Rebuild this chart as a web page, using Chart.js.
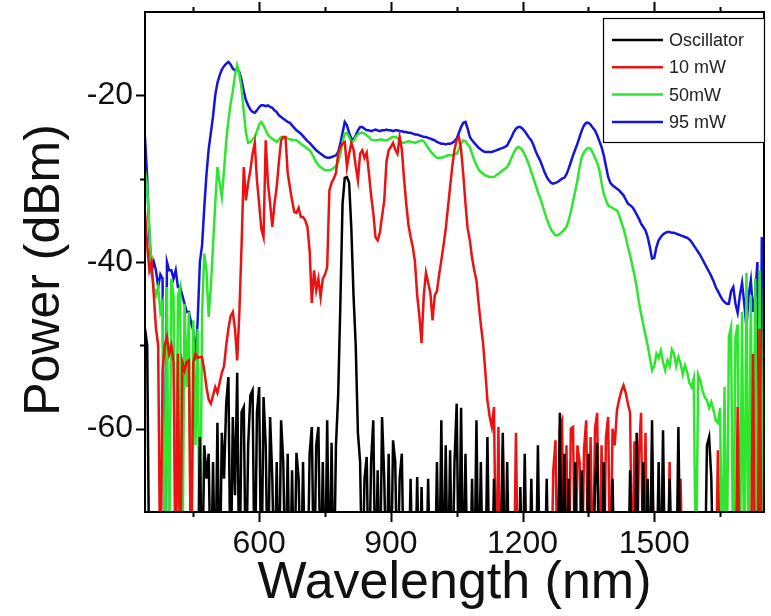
<!DOCTYPE html>
<html>
<head>
<meta charset="utf-8">
<title>Supercontinuum spectra</title>
<script src="https://cdn.jsdelivr.net/npm/chart.js@4"></script>
<style>
  body { margin: 0; background: #fff; }
  canvas { display: block; }
</style>
</head>
<body>
<canvas id="spectrum" width="771" height="616"></canvas>
<script>
// OSA sampling grid, 5 nm steps from 340 to 1750 nm
const wavelength = [];
for (let nm = 340; nm <= 1750; nm += 5) wavelength.push(nm);

const seriesLabels = ['Oscillator', '10 mW', '50mW', '95 mW'];
const seriesColors = ['#000000', '#ec1212', '#2ee62e', '#1414dc'];

// power in dBm, -80 = below the noise floor (clipped at -70)
const oscillator = [
  -48, -50, -80, -80, -80, -80, -80, -80, -80, -80,
  -80, -80, -80, -80, -80, -80, -80, -80, -80, -80,
  -80, -80, -80, -80, -80, -61, -80, -62, -66, -63,
  -80, -64, -80, -59.3, -80, -60.5, -66, -57, -53.8, -80,
  -58.6, -68, -53.3, -80, -58, -57.4, -80, -62, -56, -55.4,
  -80, -58, -55, -80, -56.2, -62, -80, -58.6, -66, -80,
  -64, -80, -59, -64, -80, -63, -80, -65, -80, -62.9,
  -66, -80, -64, -80, -80, -63, -59.8, -80, -62, -59.8,
  -80, -64, -80, -59, -80, -61.7, -80, -62, -56, -45,
  -33, -29.9, -29.8, -30.5, -36, -44, -50, -60.5, -64, -80,
  -66, -63.4, -80, -64, -59, -80, -65, -80, -58.6, -66,
  -80, -63, -80, -61.4, -64, -80, -66, -63, -80, -80,
  -80, -66, -80, -80, -65.8, -80, -67, -80, -80, -66,
  -80, -80, -80, -64, -80, -59, -80, -62, -80, -62.6,
  -80, -64, -57, -80, -57.5, -80, -63, -80, -80, -66,
  -80, -59, -80, -64, -80, -80, -61, -80, -80, -66,
  -80, -80, -80, -60.5, -80, -64, -80, -80, -80, -80,
  -80, -67, -80, -63, -80, -80, -66, -80, -80, -62,
  -80, -80, -80, -66, -80, -80, -80, -80, -80, -58.1,
  -80, -63, -80, -66, -80, -80, -64, -80, -80, -65,
  -80, -80, -63, -80, -80, -67, -61.7, -80, -80, -64,
  -80, -80, -80, -66, -80, -80, -80, -80, -80, -80,
  -80, -65, -80, -80, -60.5, -80, -80, -64, -80, -66,
  -80, -59, -80, -80, -64, -80, -60.2, -80, -80, -66,
  -80, -80, -80, -59.8, -80, -80, -80, -80, -80, -80,
  -80, -80, -80, -80, -80, -80, -62, -61, -66, -80,
  -80, -80, -80, -80, -80, -80, -80, -80, -80, -80,
  -80, -80, -80, -80, -80, -80, -80, -80, -80, -80,
  -80, -80, -80
];

const power10 = [
  -34, -38, -41, -40, -44, -48, -50, -80, -53, -50,
  -49, -51, -50, -52, -80, -51, -80, -52, -53, -52,
  -51.8, -80, -52, -51, -51.5, -51.4, -51.4, -53, -55, -56.5,
  -57, -56, -55, -55.7, -54.5, -53.3, -52.5, -50, -48, -46.5,
  -46, -48, -51.8, -46, -38, -28.6, -32.6, -30.5, -29, -27,
  -25.7, -30.2, -33, -36, -37, -25.4, -30.5, -33, -35.8, -33,
  -31, -28, -25.4, -25, -25, -29.3, -31, -32.6, -34, -34.1,
  -33.5, -34.6, -34.6, -35, -35.8, -38.6, -44.9, -41, -43.4, -42,
  -44.2, -42, -41.5, -40.6, -31.4, -30.5, -30, -29.3, -27, -26.2,
  -25.8, -25.6, -28.6, -27, -25.7, -26.5, -28.5, -30.2, -27, -26.6,
  -27.5, -26.9, -29.3, -32, -34.1, -37, -37.4, -36.5, -34.5, -32.6,
  -28, -26.6, -26.2, -25.7, -26.5, -27, -25, -26.5, -30, -33,
  -35.5, -37, -38.2, -40, -44, -46.5, -49.7, -44, -41.3, -42.5,
  -43.7, -47, -44, -43.5, -41.5, -39.8, -38, -36, -33.5, -31,
  -28.5, -26.5, -25.4, -25, -26.5, -29.5, -33, -36, -37.4, -39.5,
  -41, -42.2, -45, -47.5, -49.7, -53, -56.6, -58.5, -59.8, -57.4,
  -80, -59.8, -80, -62, -80, -80, -80, -80, -80, -60.5,
  -80, -80, -80, -80, -80, -80, -80, -80, -80, -80,
  -80, -80, -80, -80, -80, -80, -65, -61.4, -80, -59.8,
  -59, -80, -62, -80, -60, -59.8, -80, -62, -64, -80,
  -62.5, -59, -80, -61, -80, -60, -58.1, -80, -62, -80,
  -61, -58.6, -80, -60, -62, -57.8, -56.5, -55.5, -54.8, -55.7,
  -57, -58.1, -80, -61.5, -80, -63, -58.1, -80, -60.5, -80,
  -80, -62.6, -80, -80, -80, -80, -80, -80, -80, -64,
  -80, -80, -80, -80, -66, -80, -80, -80, -80, -80,
  -80, -80, -80, -80, -80, -80, -80, -80, -80, -80,
  -80, -62.6, -80, -80, -80, -80, -80, -80, -80, -80,
  -57.4, -80, -80, -80, -80, -80, -80, -51, -80, -80,
  -48, -80, -80
];

const power50 = [
  -29, -31, -36, -41, -43, -44, -43, -46, -45, -80,
  -43, -80, -42, -44, -80, -44, -43, -80, -45, -55,
  -46, -80, -47, -62, -48, -80, -46, -39, -41, -46.6,
  -43, -38, -33, -28.6, -30.5, -32.2, -29, -25.5, -23, -21,
  -19.5, -17.6, -16.4, -17.5, -19.2, -22, -24.5, -25.7, -25.6, -25.3,
  -25, -24.3, -23.5, -23.2, -23.6, -24.2, -24.7, -25, -25.2, -25.4,
  -25.6, -25.3, -25, -25, -25.1, -25.2, -25.3, -25.3, -25.4, -25.4,
  -25.6, -25.8, -26, -26.2, -26.4, -26.6, -27, -27.5, -28, -28.4,
  -28.6, -28.8, -29, -29, -29, -28.9, -28.7, -28.5, -28, -27,
  -25.6, -24.6, -24.5, -25, -25.6, -25.5, -25, -24.7, -24.5, -24.5,
  -24.6, -24.8, -25, -25.3, -25.4, -25.4, -25.4, -25.3, -25.3, -25.4,
  -25.4, -25.3, -25.1, -25, -25, -25.1, -25.4, -25.7, -25.7, -25.6,
  -25.5, -25.6, -25.6, -25.7, -25.6, -25.5, -25.4, -25.5, -25.9, -26.3,
  -26.7, -27, -27.3, -27.5, -27.5, -27.5, -27.4, -27.3, -27.2, -27.2,
  -27.2, -27.1, -27, -26.5, -25.8, -25.4, -25.5, -25.9, -26.2, -27,
  -27.8, -28.4, -28.9, -29.2, -29.4, -29.6, -29.7, -29.8, -29.8, -29.8,
  -29.6, -29.4, -29.2, -29, -28.8, -28.6, -28.1, -27.5, -26.9, -26.4,
  -26.2, -26.3, -26.6, -27.1, -27.7, -28.4, -29.2, -30, -30.8, -31.6,
  -32.3, -33.1, -34, -34.8, -35.5, -36.1, -36.5, -36.8, -36.8, -36.6,
  -36.4, -36.1, -35.8, -35, -34, -32.7, -31.5, -30.2, -28.6, -27.4,
  -26.8, -26.5, -26.3, -26.4, -26.9, -27.5, -28.1, -29, -30.5, -31.8,
  -32.6, -33.2, -33.4, -33.5, -33.7, -33.8, -34.4, -35.2, -36, -37,
  -38.2, -39.2, -40.4, -41.6, -43, -44.8, -46.2, -47.5, -48.8, -50,
  -51.5, -53, -52.5, -51, -51.5, -50.6, -52, -53, -51.8, -52.5,
  -50.5, -51, -52.5, -51.4, -52.2, -53.5, -52.4, -53.2, -54.5, -55,
  -54, -80, -53.5, -54.2, -55.5, -56.2, -56.6, -57.5, -56.8, -57.8,
  -59, -59.3, -57.5, -80, -55, -80, -49, -47.8, -80, -49,
  -47.5, -80, -46, -80, -41.3, -80, -44, -80, -42, -80,
  -41, -80, -43
];

const power95 = [
  -25, -30, -37, -41, -40, -41, -43, -41.5, -42, -80,
  -40, -41, -41, -42, -41, -43, -43, -44, -45, -46,
  -46, -47.3, -48.2, -51.8, -47, -40, -38, -33.5, -29.5, -26.5,
  -24.5, -22.5, -20, -18.5, -17.6, -16.9, -16.5, -16.2, -16, -16.3,
  -16.8, -17, -16.8, -17.2, -18.2, -19.5, -20.6, -21.2, -21.7, -22,
  -22.1, -21.8, -21.4, -21.2, -21.2, -21.3, -21.2, -21.4, -21.5, -21.8,
  -22, -22.4, -22.6, -22.8, -23, -23.2, -23.3, -23.6, -23.9, -24.2,
  -24.4, -24.6, -24.9, -25.2, -25.5, -25.7, -26, -26.3, -26.6, -26.8,
  -27, -27.2, -27.4, -27.5, -27.5, -27.4, -27.3, -27.2, -26.8, -25.8,
  -24.5, -23.2, -23.6, -24.5, -25.2, -25.3, -24.8, -24.2, -23.8, -23.8,
  -24, -24.2, -24.2, -24.3, -24.2, -24.1, -24.2, -24.3, -24.2, -24.2,
  -24.1, -24.2, -24.2, -24.3, -24.2, -24.2, -24.3, -24.3, -24.4, -24.4,
  -24.5, -24.5, -24.6, -24.7, -24.7, -24.8, -24.9, -25, -25, -25.1,
  -25.2, -25.3, -25.4, -25.6, -25.7, -25.8, -25.8, -25.9, -25.8, -25.8,
  -25.7, -25.5, -25.2, -24.5, -23.8, -23.3, -23.2, -24, -25, -25.4,
  -25.7, -26, -26.3, -26.5, -26.7, -26.8, -26.8, -26.8, -26.8, -26.7,
  -26.6, -26.5, -26.4, -26.3, -26.2, -26, -25.5, -25, -24.4, -24,
  -23.8, -23.8, -24, -24.3, -24.7, -25.1, -25.4, -26, -26.7, -27.3,
  -27.8, -28.5, -29.2, -29.8, -30.2, -30.5, -30.6, -30.5, -30.4, -30.2,
  -30, -29.9, -29.5, -28.8, -28, -27.2, -26.5, -25.8, -25, -24.2,
  -23.6, -23.3, -23.3, -23.5, -23.9, -24.2, -24.8, -25.5, -26.2, -27.2,
  -28.5, -29.8, -30.5, -30.8, -31, -31.2, -31.4, -31.7, -32, -32.5,
  -33, -33.2, -33.4, -33.8, -34.3, -34.8, -35.4, -35.8, -36.2, -37,
  -38.2, -39.6, -39.5, -38.2, -37.4, -37, -36.7, -36.5, -36.4, -36.4,
  -36.5, -36.5, -36.6, -36.7, -36.8, -36.9, -37, -37.1, -37.3, -37.6,
  -38, -38.4, -38.8, -39.2, -39.7, -40.2, -40.7, -41.2, -41.7, -42.3,
  -43, -43.5, -44, -44.5, -44.8, -45, -45, -43.5, -43, -45,
  -46.1, -44, -42.5, -45, -47.8, -44, -42.2, -46, -44, -40,
  -80, -37, -80
];

const xTickLabels = [600, 900, 1200, 1500];
const xMinorTicks = [450, 750, 1050, 1350, 1650];
const yTickLabels = [-60, -40, -20];
const yMinorTicks = [-50, -30];

const fontFamily = "'Liberation Sans', Arial, sans-serif";
const traces = [oscillator, power10, power50, power95];

// frame, outward tick marks on bottom/top/left, y title, boxed legend top-right
const framePlugin = {
  id: 'frame',
  afterDraw(chart) {
    const { ctx, chartArea: a, scales: { x, y } } = chart;
    ctx.save();
    ctx.strokeStyle = '#000';
    ctx.lineWidth = 2;
    ctx.strokeRect(a.left, a.top, a.right - a.left, a.bottom - a.top);

    ctx.beginPath();
    const xTick = (v, len) => {
      const px = Math.round(x.getPixelForValue(v)) + 0.5;
      ctx.moveTo(px, a.bottom); ctx.lineTo(px, a.bottom + len);
      ctx.moveTo(px, a.top); ctx.lineTo(px, a.top - len);
    };
    const yTick = (v, len) => {
      const py = Math.round(y.getPixelForValue(v)) + 0.5;
      ctx.moveTo(a.left, py); ctx.lineTo(a.left - len, py);
    };
    xTickLabels.forEach(v => xTick(v, 10));
    xMinorTicks.forEach(v => xTick(v, 5));
    yTickLabels.forEach(v => yTick(v, 9));
    yMinorTicks.forEach(v => yTick(v, 5));
    ctx.stroke();

    // y axis title, a little below the middle of the axis
    ctx.save();
    ctx.translate(45, (a.top + a.bottom) / 2 + 8);
    ctx.rotate(-Math.PI / 2);
    ctx.fillStyle = '#111';
    ctx.font = '50px ' + fontFamily;
    ctx.textAlign = 'center';
    ctx.textBaseline = 'middle';
    ctx.fillText('Power (dBm)', 0, 0);
    ctx.restore();

    // legend
    const box = { left: 603, top: 18, right: a.right, bottom: 142 };
    ctx.fillStyle = '#fff';
    ctx.fillRect(box.left, box.top, box.right - box.left, box.bottom - box.top);
    ctx.lineWidth = 1.2;
    ctx.strokeStyle = '#000';
    ctx.strokeRect(box.left + 0.5, box.top + 0.5, box.right - box.left, box.bottom - box.top);
    ctx.font = '18px ' + fontFamily;
    ctx.textBaseline = 'middle';
    chart.data.datasets.forEach((ds, i) => {
      const rowY = 40 + i * 27.3;
      ctx.strokeStyle = ds.borderColor;
      ctx.lineWidth = 2.5;
      ctx.beginPath();
      ctx.moveTo(box.left + 9, rowY);
      ctx.lineTo(box.left + 60, rowY);
      ctx.stroke();
      ctx.fillStyle = '#222';
      ctx.fillText(ds.label, box.left + 66, rowY + 1);
    });
    ctx.restore();
  }
};

const ctx = document.getElementById('spectrum').getContext('2d');
const chart = new Chart(ctx, {
  type: 'line',
  data: {
    datasets: traces.map((trace, i) => ({
      label: seriesLabels[i],
      data: wavelength.map((nm, k) => ({ x: nm, y: trace[k] })),
      borderColor: seriesColors[i],
      borderWidth: 2.5,
      pointRadius: 0,
      tension: 0,
      fill: false
    }))
  },
  options: {
    responsive: false,
    animation: false,
    devicePixelRatio: 1,
    layout: { padding: { top: 12, right: 7, left: 0, bottom: 0 } },
    plugins: {
      legend: { display: false },
      tooltip: { enabled: false }
    },
    scales: {
      x: {
        type: 'linear',
        min: 340,
        max: 1750,
        afterBuildTicks: scale => { scale.ticks = xTickLabels.map(v => ({ value: v })); },
        afterFit: scale => {
          scale.height = 104;
          scale.paddingLeft = 0;
          scale.paddingRight = 0;
        },
        grid: { display: false, drawTicks: false },
        border: { display: false },
        ticks: {
          padding: 13,
          color: '#111',
          font: { family: fontFamily, size: 32 },
          maxRotation: 0,
          callback: v => String(v)
        },
        title: {
          display: true,
          text: 'Wavelength (nm)',
          color: '#111',
          font: { family: fontFamily, size: 52 },
          padding: { top: 0, bottom: 1 }
        }
      },
      y: {
        min: -70,
        max: -10,
        afterBuildTicks: scale => { scale.ticks = yTickLabels.map(v => ({ value: v })); },
        afterFit: scale => {
          scale.width = 145;
          scale.paddingTop = 0;
          scale.paddingBottom = 0;
        },
        grid: { display: false, drawTicks: false },
        border: { display: false },
        ticks: {
          padding: 12,
          color: '#111',
          font: { family: fontFamily, size: 32 },
          callback: v => String(v)
        },
        title: { display: false }
      }
    }
  },
  plugins: [framePlugin]
});
</script>
</body>
</html>
